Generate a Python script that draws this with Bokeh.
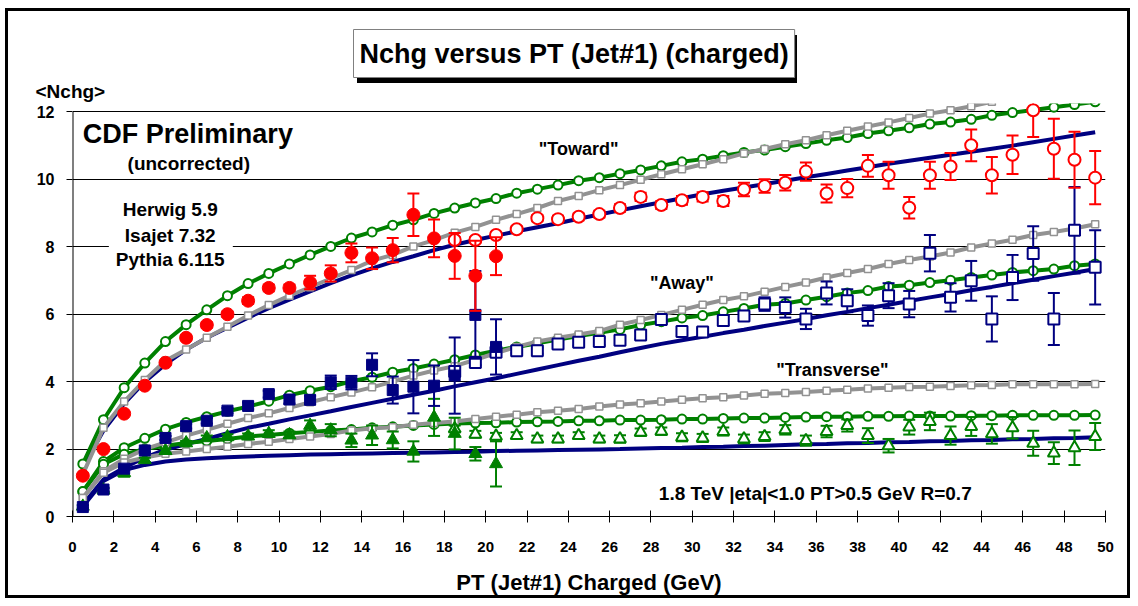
from bokeh.plotting import figure
from bokeh.models import Range1d, Label, BoxAnnotation, FixedTicker, Title
from bokeh.embed import file_html
from bokeh.resources import INLINE

# ---------------- data ----------------
x_model = [0.5 + i for i in range(50)]

toward_herwig = [1.56, 2.87, 3.82, 4.55, 5.19, 5.69, 6.13, 6.55, 6.91, 7.21,
                 7.49, 7.76, 8.01, 8.26, 8.44, 8.64, 8.80, 8.99, 9.15, 9.30,
                 9.43, 9.59, 9.71, 9.83, 9.96, 10.05, 10.17, 10.28, 10.40, 10.52,
                 10.60, 10.70, 10.80, 10.87, 10.97, 11.06, 11.16, 11.24, 11.36, 11.44,
                 11.53, 11.64, 11.70, 11.78, 11.90, 11.98, 12.06, 12.14, 12.22, 12.30]
toward_isajet = [1.25, 2.63, 3.41, 4.05, 4.62, 4.95, 5.30, 5.63, 5.96, 6.27,
                 6.55, 6.80, 7.06, 7.31, 7.59, 7.76, 8.01, 8.20, 8.42, 8.59,
                 8.80, 8.97, 9.15, 9.36, 9.51, 9.68, 9.83, 9.99, 10.15, 10.30,
                 10.45, 10.60, 10.77, 10.90, 11.04, 11.16, 11.31, 11.44, 11.57, 11.69,
                 11.82, 11.95, 12.05, 12.17, 12.30, 12.42, 12.53, 12.65, 12.76, 12.87]
toward_pythia = [1.45, 2.55, 3.35, 4.00, 4.52, 4.95, 5.30, 5.60, 5.90, 6.18,
                 6.43, 6.68, 6.92, 7.15, 7.36, 7.55, 7.72, 7.90, 8.06, 8.20,
                 8.33, 8.46, 8.58, 8.70, 8.83, 8.96, 9.08, 9.20, 9.32, 9.44,
                 9.56, 9.66, 9.76, 9.86, 9.96, 10.06, 10.16, 10.26, 10.36, 10.46,
                 10.55, 10.64, 10.73, 10.82, 10.91, 11.00, 11.10, 11.20, 11.30, 11.40]

away_herwig = [0.74, 1.63, 2.04, 2.32, 2.59, 2.79, 2.96, 3.12, 3.26, 3.42,
               3.60, 3.73, 3.85, 4.01, 4.13, 4.28, 4.39, 4.52, 4.65, 4.79,
               4.92, 5.03, 5.14, 5.25, 5.35, 5.45, 5.55, 5.68, 5.78, 5.89,
               5.96, 6.07, 6.17, 6.28, 6.32, 6.42, 6.52, 6.63, 6.70, 6.82,
               6.86, 6.94, 7.01, 7.09, 7.16, 7.24, 7.29, 7.34, 7.44, 7.49]
away_isajet = [0.55, 1.34, 1.71, 2.00, 2.20, 2.40, 2.57, 2.75, 2.92, 3.06,
               3.22, 3.39, 3.54, 3.68, 3.83, 4.00, 4.18, 4.33, 4.46, 4.65,
               4.85, 5.03, 5.19, 5.30, 5.40, 5.50, 5.69, 5.83, 5.98, 6.13,
               6.28, 6.42, 6.53, 6.67, 6.81, 6.94, 7.09, 7.22, 7.34, 7.49,
               7.61, 7.71, 7.83, 7.98, 8.10, 8.21, 8.35, 8.44, 8.54, 8.67]
away_pythia = [0.35, 1.10, 1.45, 1.75, 1.98, 2.15, 2.30, 2.47, 2.63, 2.75,
               2.88, 3.00, 3.12, 3.25, 3.37, 3.49, 3.61, 3.73, 3.86, 3.98,
               4.10, 4.23, 4.36, 4.49, 4.62, 4.74, 4.87, 5.00, 5.12, 5.23,
               5.33, 5.44, 5.54, 5.65, 5.75, 5.86, 5.97, 6.07, 6.18, 6.28,
               6.39, 6.50, 6.60, 6.71, 6.81, 6.92, 7.02, 7.13, 7.23, 7.34]

trans_herwig = [0.74, 1.55, 1.85, 2.00, 2.10, 2.18, 2.24, 2.30, 2.37, 2.42,
                2.47, 2.51, 2.55, 2.58, 2.63, 2.66, 2.70, 2.73, 2.76, 2.77,
                2.78, 2.80, 2.81, 2.82, 2.84, 2.84, 2.86, 2.86, 2.87, 2.89,
                2.89, 2.91, 2.92, 2.92, 2.94, 2.95, 2.96, 2.96, 2.97, 2.97,
                2.98, 2.98, 2.98, 2.99, 2.99, 3.00, 3.00, 3.00, 3.00, 3.01]
trans_isajet = [0.55, 1.30, 1.60, 1.75, 1.86, 1.93, 2.00, 2.07, 2.15, 2.22,
                2.30, 2.37, 2.45, 2.55, 2.62, 2.65, 2.72, 2.77, 2.82, 2.89,
                2.96, 3.02, 3.09, 3.14, 3.19, 3.26, 3.32, 3.36, 3.41, 3.46,
                3.51, 3.54, 3.59, 3.64, 3.66, 3.69, 3.73, 3.76, 3.80, 3.82,
                3.84, 3.85, 3.87, 3.89, 3.90, 3.92, 3.92, 3.92, 3.92, 3.93]
trans_pythia = [0.30, 1.05, 1.38, 1.53, 1.63, 1.69, 1.73, 1.76, 1.78, 1.80,
                1.82, 1.84, 1.85, 1.86, 1.87, 1.88, 1.89, 1.90, 1.91, 1.92,
                1.94, 1.95, 1.96, 1.97, 1.98, 1.99, 2.00, 2.02, 2.03, 2.04,
                2.06, 2.07, 2.09, 2.10, 2.12, 2.14, 2.15, 2.17, 2.18, 2.20,
                2.21, 2.23, 2.24, 2.26, 2.27, 2.29, 2.30, 2.32, 2.33, 2.35]

# measured data: low-PT sample (filled) and high-PT sample (open)
x_low = [0.5 + i for i in range(21)]
x_high = [18.5 + i for i in range(32)]

toward_low = [1.21, 2.00, 3.05, 3.88, 4.56, 5.30, 5.68, 6.00, 6.40, 6.78, 6.78,
              6.94, 7.21, 7.82, 7.66, 7.90, 8.95, 8.25, 7.73, 7.14, 7.72]
toward_low_err = [0.05, 0.05, 0.05, 0.05, 0.06, 0.07, 0.08, 0.08, 0.10, 0.10, 0.10,
                  0.20, 0.24, 0.28, 0.32, 0.36, 0.63, 0.56, 0.68, 1.04, 0.56]
toward_high = [8.20, 8.20, 8.35, 8.52, 8.85, 8.82, 8.89, 8.97, 9.15, 9.48, 9.24,
               9.38, 9.48, 9.36, 9.70, 9.80, 9.90, 10.23, 9.58, 9.74, 10.40, 10.12,
               9.16, 10.12, 10.38, 11.01, 10.12, 10.73, 12.05, 10.91, 10.58, 10.05]
toward_high_err = [0.08, 0.08, 0.08, 0.09, 0.09, 0.10, 0.10, 0.10, 0.11, 0.12, 0.12,
                   0.13, 0.14, 0.15, 0.20, 0.20, 0.23, 0.27, 0.27, 0.27, 0.32, 0.40,
                   0.32, 0.40, 0.40, 0.47, 0.54, 0.57, 0.79, 0.89, 0.83, 0.79]

away_low = [0.28, 0.80, 1.42, 1.96, 2.33, 2.68, 2.84, 3.14, 3.28, 3.63, 3.47,
            3.46, 3.98, 3.97, 4.50, 3.75, 3.85, 3.88, 4.18, 5.98, 5.03]
away_low_err = [0.05, 0.05, 0.05, 0.05, 0.06, 0.07, 0.08, 0.08, 0.10, 0.10, 0.12,
                0.12, 0.20, 0.20, 0.34, 0.40, 0.79, 0.60, 1.13, 1.30, 0.82]
away_high = [4.30, 4.57, 4.87, 4.92, 4.92, 5.12, 5.17, 5.19, 5.23, 5.38, 5.84,
             5.49, 5.47, 5.81, 5.95, 6.30, 6.20, 5.86, 6.63, 6.40, 5.96, 6.55,
             6.30, 7.81, 6.50, 6.99, 5.86, 7.09, 7.80, 5.86, 8.49, 7.39]
away_high_err = [0.08, 0.08, 0.08, 0.08, 0.09, 0.09, 0.10, 0.10, 0.10, 0.11, 0.12,
                 0.12, 0.10, 0.15, 0.15, 0.20, 0.30, 0.30, 0.34, 0.34, 0.30, 0.37,
                 0.39, 0.54, 0.42, 0.59, 0.67, 0.67, 0.81, 0.77, 1.28, 1.10]

trans_low = [0.30, 0.78, 1.30, 1.68, 1.95, 2.18, 2.33, 2.36, 2.38, 2.46, 2.42,
             2.70, 2.56, 2.26, 2.41, 2.27, 1.93, 2.94, 2.46, 1.86, 1.56]
trans_low_err = [0.03, 0.05, 0.12, 0.06, 0.06, 0.06, 0.07, 0.08, 0.08, 0.10, 0.10,
                 0.15, 0.18, 0.20, 0.29, 0.25, 0.30, 0.55, 0.47, 0.20, 0.67]
trans_high = [2.60, 2.44, 2.38, 2.40, 2.30, 2.30, 2.40, 2.30, 2.30, 2.50, 2.53,
              2.35, 2.33, 2.52, 2.30, 2.37, 2.57, 2.25, 2.52, 2.70, 2.40, 2.10,
              2.65, 2.82, 2.40, 2.67, 2.45, 2.63, 2.17, 1.88, 2.04, 2.37]
trans_high_err = [0.10, 0.10, 0.10, 0.10, 0.10, 0.10, 0.10, 0.10, 0.11, 0.11, 0.11,
                  0.12, 0.12, 0.12, 0.13, 0.13, 0.14, 0.15, 0.17, 0.18, 0.22, 0.20,
                  0.22, 0.26, 0.27, 0.28, 0.29, 0.32, 0.37, 0.32, 0.51, 0.40]

y_ticks = [0, 2, 4, 6, 8, 10, 12]
x_ticks = list(range(0, 51, 2))

# ---------------- style ----------------
FONT = "Liberation Sans"
GREEN = "#008000"
GRAY = "#929292"
NAVY = "#000080"
RED = "#ff0000"

p = figure(width=1125, height=590, output_backend="svg", toolbar_location=None,
           x_range=Range1d(0, 50), y_range=Range1d(0, 12.25),
           min_border_left=64, min_border_right=28, min_border_top=92,
           min_border_bottom=85, background_fill_color="white",
           border_fill_color=None)
# outer frame of the picture + drop shadow behind the title box
p.styles = {
    "border": "3px solid black",
    "margin-left": "5px",
    "margin-top": "8px",
    "background-color": "white",
    "background-image": "linear-gradient(black, black)",
    "background-repeat": "no-repeat",
    "background-position": "349px 24px",
    "background-size": "440px 48px",
}
p.outline_line_color = None

p.xgrid.visible = False
p.ygrid.ticker = FixedTicker(ticks=y_ticks)
p.ygrid.grid_line_color = "black"
p.ygrid.grid_line_width = 1

p.xaxis.ticker = FixedTicker(ticks=x_ticks)
p.xaxis.axis_line_color = "black"
p.xaxis.major_tick_in = 6
p.xaxis.major_tick_out = 6
p.xaxis.minor_tick_line_color = None
p.xaxis.major_label_text_font = FONT
p.xaxis.major_label_text_font_style = "bold"
p.xaxis.major_label_text_font_size = "15px"
p.xaxis.major_label_text_color = "black"
p.xaxis.major_label_standoff = 19
p.xaxis.axis_label = "PT (Jet#1) Charged (GeV)"
p.xaxis.axis_label_text_font = FONT
p.xaxis.axis_label_text_font_style = "bold"
p.xaxis.axis_label_text_font_size = "22px"
p.xaxis.axis_label_text_color = "black"
p.xaxis.axis_label_standoff = 15

p.yaxis.ticker = FixedTicker(ticks=y_ticks)
p.yaxis.axis_line_color = None
p.yaxis.major_tick_in = 0
p.yaxis.major_tick_out = 6
p.yaxis.minor_tick_line_color = None
p.yaxis.major_label_text_font = FONT
p.yaxis.major_label_text_font_style = "bold"
p.yaxis.major_label_text_font_size = "16px"
p.yaxis.major_label_text_color = "black"
p.yaxis.major_label_standoff = 12

# y axis line (stops at 12)
p.line([0, 0], [0, 12], line_color="black", line_width=2)

# titles above the frame: main title (outer row), y label (row next to frame)
p.title.text = "Nchg versus PT (Jet#1) (charged)"
p.title.text_font = FONT
p.title.text_font_style = "bold"
p.title.text_font_size = "27px"
p.title.text_color = "black"
p.title.align = "left"
p.title.offset = 281
p.title.background_fill_color = "white"
p.title.border_line_color = "#808080"
p.title.border_line_width = 1
p.title.standoff = 0
try:
    p.title.padding = (6, 9)
except Exception:
    p.title.padding = 8

ylab = Title(text="<Nchg>", align="left", offset=-37, standoff=3,
             text_font=FONT, text_font_style="bold", text_font_size="19px",
             text_color="black")
p.add_layout(ylab, "above")

# ---------------- models ----------------
for ys in (toward_pythia, away_pythia, trans_pythia):
    p.line(x_model, ys, line_color=NAVY, line_width=4)
for ys in (toward_herwig, away_herwig, trans_herwig):
    p.line(x_model, ys, line_color=GREEN, line_width=4)
    p.scatter(x_model, ys, marker="circle", size=9, fill_color="white",
              line_color=GREEN, line_width=2)
for ys in (toward_isajet, away_isajet, trans_isajet):
    p.line(x_model, ys, line_color=GRAY, line_width=4)
    p.scatter(x_model, ys, marker="square", size=7, fill_color="white",
              line_color=GRAY, line_width=1.5)

# ---------------- data ----------------
def data_series(xs, ys, errs, marker, color, filled, size):
    lo = [y - e for y, e in zip(ys, errs)]
    hi = [y + e for y, e in zip(ys, errs)]
    p.segment(xs, lo, xs, hi, line_color=color, line_width=2)
    p.scatter(xs, lo, marker="dash", size=12, line_color=color, line_width=2)
    p.scatter(xs, hi, marker="dash", size=12, line_color=color, line_width=2)
    p.scatter(xs, ys, marker=marker, size=size,
              fill_color=color if filled else "white",
              line_color=color, line_width=1 if filled else 2)

data_series(x_high, trans_high, trans_high_err, "triangle", GREEN, False, 12)
data_series(x_low, trans_low, trans_low_err, "triangle", GREEN, True, 13)
data_series(x_high, away_high, away_high_err, "square", NAVY, False, 11)
data_series(x_low, away_low, away_low_err, "square", NAVY, True, 11)
data_series(x_high, toward_high, toward_high_err, "circle", RED, False, 12)
data_series(x_low, toward_low, toward_low_err, "circle", RED, True, 13)

# ---------------- annotations ----------------
def lab(x, y, text, size, align="center", **kw):
    l = Label(x=x, y=y, text=text, text_font=FONT, text_font_style="bold",
              text_font_size=size, text_align=align, text_baseline="middle",
              text_color="black", **kw)
    p.add_layout(l)
    return l

p.add_layout(BoxAnnotation(left=1.76, right=7.76, bottom=7.25, top=9.5,
                           fill_color="white", fill_alpha=1.0, line_color=None))

lab(0.5, 11.35, "CDF Preliminary", "27px", align="left")
lab(5.63, 10.46, "(uncorrected)", "19px")
lab(4.73, 9.1, "Herwig 5.9", "19px")
lab(4.73, 8.33, "Isajet 7.32", "19px")
lab(4.73, 7.61, "Pythia 6.115", "19px")
lab(24.5, 10.9, '"Toward"', "18px")
lab(29.5, 6.94, '"Away"', "18px")
lab(36.78, 4.36, '"Transverse"', "18px")
lab(36.08, 0.68, "1.8 TeV |eta|<1.0 PT>0.5 GeV  R=0.7", "19px")

open("out.html", "w").write(file_html(p, INLINE))
